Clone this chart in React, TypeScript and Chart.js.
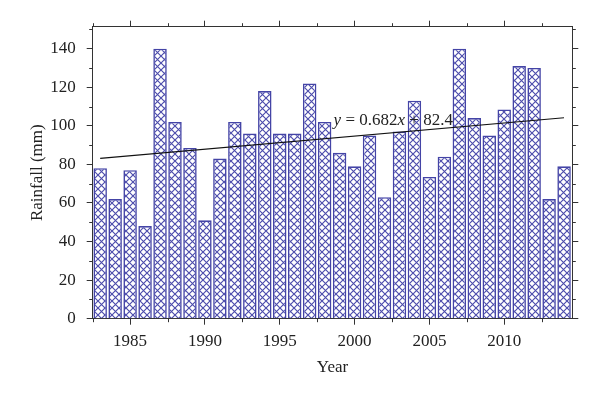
import React, { useEffect, useRef } from 'react';
import { Chart, registerables } from 'chart.js';

Chart.register(...registerables);

const years = [1983, 1984, 1985, 1986, 1987, 1988, 1989, 1990, 1991, 1992, 1993, 1994, 1995, 1996, 1997, 1998, 1999, 2000, 2001, 2002, 2003, 2004, 2005, 2006, 2007, 2008, 2009, 2010, 2011, 2012, 2013, 2014];
const rainfall = [78, 62, 77, 48, 140, 102, 88.5, 51, 83, 102, 96, 118, 96, 96, 122, 102, 86, 79, 95, 63, 97, 113, 73.5, 84, 140, 104, 95, 108.5, 131, 130, 62, 79];
const trendYears = [1983, 2014];
const trendValues = [83.1, 104.2];
const xMajorTicks = [1985, 1990, 1995, 2000, 2005, 2010];
const xMinorTicks = [1982.5, 1987.5, 1992.5, 1997.5, 2002.5, 2007.5, 2012.5];
const yMajorTicks = [0, 20, 40, 60, 80, 100, 120, 140];
const yMinorTicks = [10, 30, 50, 70, 90, 110, 130, 150];
const equationParts = [
  { text: 'y', italic: true },
  { text: ' = 0.682', italic: false },
  { text: 'x', italic: true },
  { text: ' + 82.4', italic: false },
];

const X_MIN = 1982.5;
const X_MAX = 2014.55;
const Y_MIN = 0;
const Y_MAX = 151.4;
const EQ_X = 1998.6;
const EQ_Y = 102.7;

const FONT = '"Liberation Serif", "Times New Roman", serif';
const AXIS_COLOR = '#333333';
const TEXT_COLOR = '#222222';
const BAR_COLOR = '#4444a6';

function makePattern(ctx: CanvasRenderingContext2D) {
  const w = 7;
  const h = 7;
  const c = document.createElement('canvas');
  c.width = w;
  c.height = h;
  const g = c.getContext('2d')!;
  g.fillStyle = '#ffffff';
  g.fillRect(0, 0, w, h);
  g.strokeStyle = '#4c4cac';
  g.lineWidth = 1.15;
  g.beginPath();
  g.moveTo(-1, -1);
  g.lineTo(w + 1, h + 1);
  g.moveTo(w + 1, -1);
  g.lineTo(-1, h + 1);
  g.stroke();
  return ctx.createPattern(c, 'repeat')!;
}

const minorTickPlugin = {
  id: 'minorTicks',
  afterDraw(chart: any) {
    const { ctx, chartArea } = chart;
    const x = chart.scales.x;
    const y = chart.scales.y;
    const len = 3.5;
    ctx.save();
    ctx.strokeStyle = AXIS_COLOR;
    ctx.lineWidth = 1;
    ctx.beginPath();
    for (const v of xMinorTicks) {
      const px = Math.round(x.getPixelForValue(v)) + 0.5;
      ctx.moveTo(px, chartArea.bottom);
      ctx.lineTo(px, chartArea.bottom + len);
      ctx.moveTo(px, chartArea.top);
      ctx.lineTo(px, chartArea.top - len);
    }
    for (const v of yMinorTicks) {
      const py = Math.round(y.getPixelForValue(v)) + 0.5;
      ctx.moveTo(chartArea.left, py);
      ctx.lineTo(chartArea.left - len, py);
      ctx.moveTo(chartArea.right, py);
      ctx.lineTo(chartArea.right + len, py);
    }
    ctx.stroke();
    ctx.restore();
  },
};

const equationPlugin = {
  id: 'equation',
  afterDatasetsDraw(chart: any) {
    const { ctx } = chart;
    const x = chart.scales.x;
    const y = chart.scales.y;
    let px = x.getPixelForValue(EQ_X);
    const py = y.getPixelForValue(EQ_Y);
    ctx.save();
    ctx.fillStyle = TEXT_COLOR;
    ctx.textBaseline = 'middle';
    ctx.textAlign = 'left';
    for (const p of equationParts) {
      ctx.font = `${p.italic ? 'italic ' : ''}17px ${FONT}`;
      ctx.fillText(p.text, px, py);
      px += ctx.measureText(p.text).width;
    }
    ctx.restore();
  },
};

export default function App() {
  const ref = useRef<HTMLCanvasElement | null>(null);

  useEffect(() => {
    const canvas = ref.current!;
    const ctx = canvas.getContext('2d')!;
    const pattern = makePattern(ctx);
    const setTicks = (vals: number[]) => (scale: any) => {
      scale.ticks = vals.map((v) => ({ value: v }));
    };
    const tickFont = { family: FONT, size: 17 };
    const chart = new Chart(canvas, {
      type: 'bar',
      data: {
        datasets: [
          {
            type: 'line',
            data: trendYears.map((yr, i) => ({ x: yr, y: trendValues[i] })),
            borderColor: '#111111',
            borderWidth: 1.2,
            pointRadius: 0,
            fill: false,
            order: 1,
          } as any,
          {
            type: 'bar',
            data: years.map((yr, i) => ({ x: yr, y: rainfall[i] })),
            backgroundColor: pattern,
            borderColor: BAR_COLOR,
            borderWidth: 1.6,
            categoryPercentage: 1,
            barPercentage: 0.9,
            order: 2,
          } as any,
        ],
      },
      options: {
        responsive: false,
        animation: false,
        layout: { padding: 0 },
        plugins: { legend: { display: false }, tooltip: { enabled: false } },
        scales: {
          x: {
            type: 'linear',
            position: 'bottom',
            min: X_MIN,
            max: X_MAX,
            offset: false,
            afterBuildTicks: setTicks(xMajorTicks),
            afterFit: (s: any) => { s.height = 77.3; },
            grid: { display: true, drawOnChartArea: false, drawTicks: true, tickLength: 6, color: AXIS_COLOR, offset: false },
            border: { display: true, color: AXIS_COLOR, width: 1 },
            ticks: { font: tickFont, color: TEXT_COLOR, padding: 7, maxRotation: 0, autoSkip: false, callback: (v: any) => String(v) },
            title: { display: true, text: 'Year', font: { family: FONT, size: 17 }, color: TEXT_COLOR, padding: { top: 0, bottom: 17.8 } },
          },
          x2: {
            type: 'linear',
            position: 'top',
            min: X_MIN,
            max: X_MAX,
            offset: false,
            afterBuildTicks: setTicks(xMajorTicks),
            afterFit: (s: any) => { s.height = 26.7; },
            grid: { display: true, drawOnChartArea: false, drawTicks: true, tickLength: 6, color: AXIS_COLOR, offset: false },
            border: { display: true, color: AXIS_COLOR, width: 1 },
            ticks: { display: false },
          },
          y: {
            type: 'linear',
            position: 'left',
            min: Y_MIN,
            max: Y_MAX,
            afterBuildTicks: setTicks(yMajorTicks),
            afterFit: (s: any) => { s.width = 92.7; },
            grid: { display: true, drawOnChartArea: false, drawTicks: true, tickLength: 6, color: AXIS_COLOR },
            border: { display: true, color: AXIS_COLOR, width: 1 },
            ticks: { font: tickFont, color: TEXT_COLOR, padding: 11, autoSkip: false, callback: (v: any) => String(v) },
            title: { display: true, text: 'Rainfall (mm)', font: { family: FONT, size: 17 }, color: TEXT_COLOR, padding: { top: 27, bottom: 0 } },
          },
          y2: {
            type: 'linear',
            position: 'right',
            min: Y_MIN,
            max: Y_MAX,
            afterBuildTicks: setTicks(yMajorTicks),
            afterFit: (s: any) => { s.width = 27.7; },
            grid: { display: true, drawOnChartArea: false, drawTicks: true, tickLength: 6, color: AXIS_COLOR },
            border: { display: true, color: AXIS_COLOR, width: 1 },
            ticks: { display: false },
          },
        },
      } as any,
      plugins: [minorTickPlugin, equationPlugin],
    });
    return () => chart.destroy();
  }, []);

  return (
    <div style={{ position: 'fixed', left: 0, top: 0, width: 600, height: 396, background: '#ffffff' }}>
      <canvas ref={ref} width={600} height={396} style={{ display: 'block', width: 600, height: 396 }} />
    </div>
  );
}
